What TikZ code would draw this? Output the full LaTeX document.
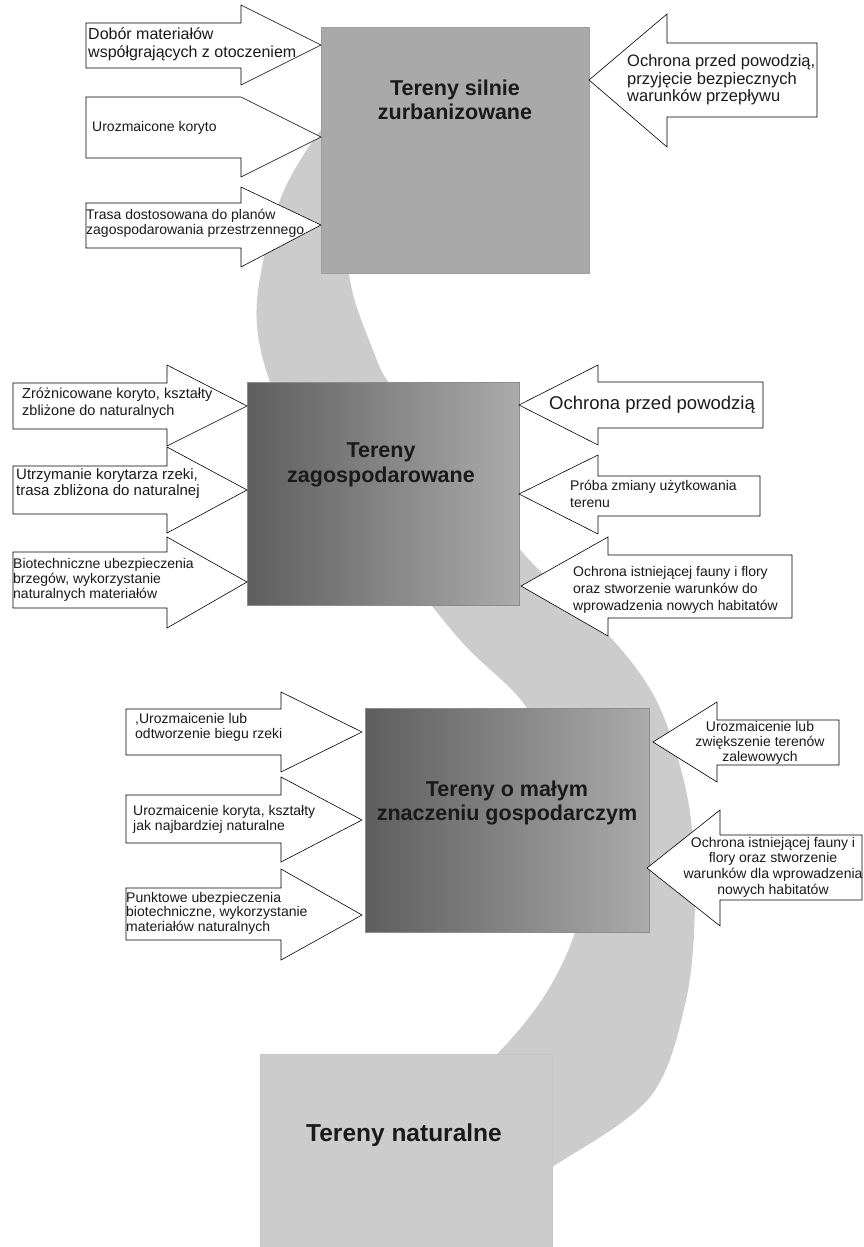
\documentclass[tikz,border=0pt]{standalone}
\usepackage{fontspec}
\setmainfont{Liberation Sans}
\definecolor{bandc}{HTML}{CCCCCC}
\definecolor{boxa}{HTML}{A9A9A9}
\definecolor{boxn}{HTML}{CCCCCC}
\definecolor{gdark}{HTML}{5E5E5E}
\definecolor{glight}{HTML}{ABABAB}
\definecolor{txtc}{HTML}{1A1A1A}
\tikzset{
  blk/.style={draw=black, line width=0.6pt, fill=white, line join=miter},
  txt/.style={inner sep=0pt, align=left, anchor=west, text=txtc},
  ctxt/.style={inner sep=0pt, align=center, text=txtc},
  ttl/.style={inner sep=0pt, align=center, text=txtc, font=\bfseries\fontsize{21.5}{24.5}\selectfont},
  rectbox/.style={rectangle, inner sep=0pt, draw=#1, line width=0.6pt},
}
\newcommand{\blkarrow}[9]{%
  \draw[blk] (#2,#3) -- (#5,#3) -- (#5,#6) -- (#8,#9) coordinate (#1) -- (#5,#7) -- (#5,#4) -- (#2,#4) -- cycle;}
\begin{document}
\begin{tikzpicture}[x=1pt, y=-1pt]
\useasboundingbox (0,0) rectangle (864,1247);
% river band
\fill[bandc] plot[smooth, tension=0.55] coordinates {(440,40) (365,90) (321,130) (280,200) (257,300) (266,370) (300,440) (380,540) (460,640) (527,708) (568,800) (583,870) (575,932) (545,995) (497,1054) (430,1110)}
  -- plot[smooth, tension=0.55] coordinates {(470,1215) (552,1167) (650,1097) (686,1000) (695,900) (688,800) (660,708) (620,648) (560,590) (523,553) (450,467) (390,385) (373,350) (352,290) (348,230) (372,140) (440,40)} -- cycle;

% boxes
\node[rectbox=black!38, fill=boxa, minimum width=268pt, minimum height=246pt] (b1) at (455,150) {};
\node[ttl] (t1) at (455,100) {Tereny silnie\\zurbanizowane};

\node[rectbox=black!45, shading=axis, left color=gdark, right color=glight, shading angle=90, minimum width=272pt, minimum height=223pt] (b2) at (383,493.5) {};
\node[ttl] (t2) at (381,465) {Tereny\\zagospodarowane};

\node[rectbox=black!45, shading=axis, left color=gdark, right color=glight, shading angle=90, minimum width=284pt, minimum height=224pt] (b3) at (507,820) {};
\node[ttl] (t3) at (507,803) {Tereny o małym\\znaczeniu gospodarczym};

\node[rectbox=black!22, fill=boxn, minimum width=292pt, minimum height=196pt] (b4) at (406,1152) {};
\node[ttl, font=\bfseries\fontsize{24.5}{28}\selectfont] (t4) at (404,1135) {Tereny naturalne};

% box 1 arrows
\blkarrow{a1}{86}{23}{68}{241}{5}{85}{321}{45}
\node[txt, font=\fontsize{16}{18}\selectfont] (l1) at (88,44) {Dobór materiałów\\współgrających z otoczeniem};
\blkarrow{a2}{86}{97}{158}{241}{97}{177}{321}{137}
\node[txt, font=\fontsize{14}{15}\selectfont] (l2) at (92,128) {Urozmaicone koryto};
\blkarrow{a3}{86}{203}{248}{241}{187}{267}{321}{225}
\node[txt, font=\fontsize{14}{15}\selectfont] (l3) at (86,223.5) {Trasa dostosowana do planów\\zagospodarowania przestrzennego};
\blkarrow{a4}{817}{43}{117}{667}{14}{147}{589}{80}
\node[txt, font=\fontsize{16.5}{17.5}\selectfont] (l4) at (627,80) {Ochrona przed powodzią,\\przyjęcie bezpiecznych\\warunków przepływu};

% box 2 arrows
\blkarrow{a5}{13}{383}{429}{167}{365}{446}{247}{406}
\node[txt, font=\fontsize{14.5}{17}\selectfont] (l5) at (22,403.5) {Zróżnicowane koryto, kształty\\zbliżone do naturalnych};
\blkarrow{a6}{13}{466}{514}{167}{447}{533}{247}{490}
\node[txt, font=\fontsize{15}{16}\selectfont] (l6) at (16,484) {Utrzymanie korytarza rzeki,\\trasa zbliżona do naturalnej};
\blkarrow{a7}{13}{552}{608}{167}{537}{628}{247}{582}
\node[txt, font=\fontsize{14}{15}\selectfont] (l7) at (13,580) {Biotechniczne ubezpieczenia\\brzegów, wykorzystanie\\naturalnych materiałów};
\blkarrow{a8}{763}{382}{428}{598}{365}{445}{519}{405}
\node[txt, font=\fontsize{18.5}{20}\selectfont] (l8) at (549,405) {Ochrona przed powodzią};
\blkarrow{a9}{760}{476}{516}{598}{455}{534}{519}{494}
\node[txt, font=\fontsize{14}{17}\selectfont] (l9) at (570,494) {Próba zmiany użytkowania\\terenu};
\blkarrow{a10}{792}{555}{618}{608}{537}{636}{521}{586}
\node[txt, font=\fontsize{14}{17}\selectfont] (l10) at (573,590) {Ochrona istniejącej fauny i flory\\oraz stworzenie warunków do\\wprowadzenia nowych habitatów};

% box 3 arrows
\blkarrow{a11}{126}{709}{755}{281}{692}{772}{362}{732}
\node[txt, font=\fontsize{14}{15}\selectfont] (l11) at (135,727.5) {,Urozmaicenie lub\\odtworzenie biegu rzeki};
\blkarrow{a12}{126}{795}{843}{281}{777}{862}{362}{820}
\node[txt, font=\fontsize{14}{15}\selectfont] (l12) at (133,819.5) {Urozmaicenie koryta, kształty\\jak najbardziej naturalne};
\blkarrow{a13}{126}{888}{940}{281}{869}{960}{362}{915}
\node[txt, font=\fontsize{14}{14.5}\selectfont] (l13) at (126,913) {Punktowe ubezpieczenia\\biotechniczne, wykorzystanie\\materiałów naturalnych};
\blkarrow{a14}{839}{720}{765}{717}{702}{782}{653}{742}
\node[ctxt, font=\fontsize{14}{15}\selectfont] (l14) at (760,743) {Urozmaicenie lub\\zwiększenie terenów\\zalewowych};
\blkarrow{a15}{862}{835}{900}{720}{810}{926}{647}{868}
\node[ctxt, font=\fontsize{14}{15.7}\selectfont] (l15) at (773,867) {Ochrona istniejącej fauny i\\flory oraz stworzenie\\warunków dla wprowadzenia\\nowych habitatów};
\end{tikzpicture}
\end{document}
